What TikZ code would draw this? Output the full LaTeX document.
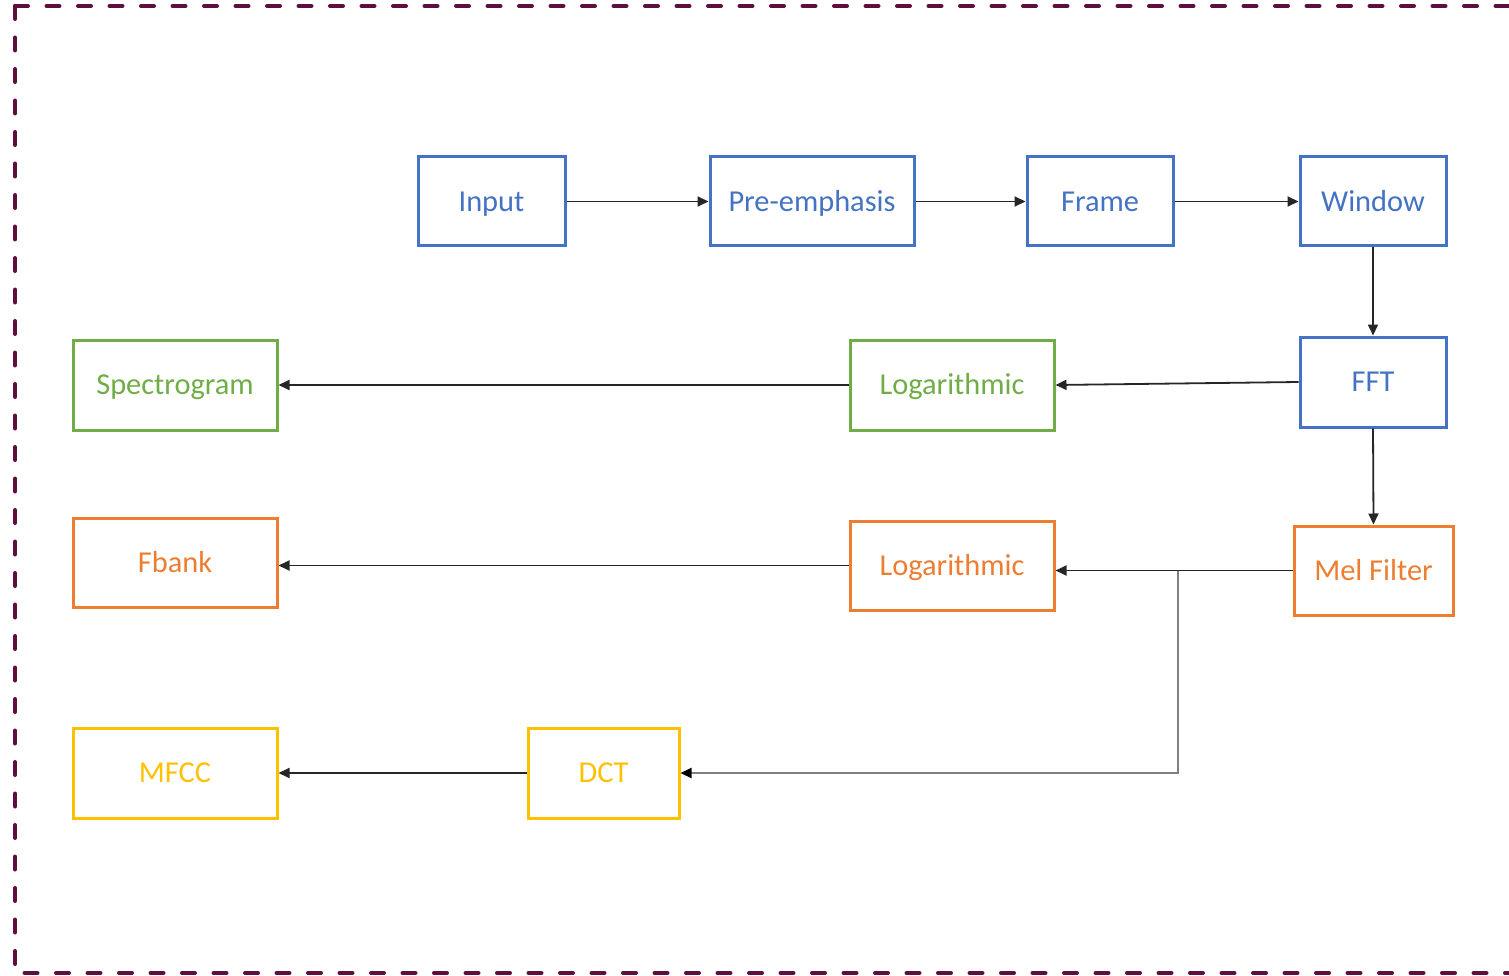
\documentclass[tikz,border=0pt]{standalone}
\usepackage{fontspec}
\setmainfont{Carlito}
\usetikzlibrary{arrows.meta}
\definecolor{cblue}{HTML}{4472C4}
\definecolor{cgreen}{HTML}{70AD47}
\definecolor{corange}{HTML}{ED7D31}
\definecolor{cyellow}{HTML}{FFC000}
\definecolor{cborder}{HTML}{5E0F3E}
\definecolor{cgray}{HTML}{7F7F7F}
\tikzset{
  box/.style={draw, line width=3pt, inner sep=0pt, minimum height=89pt,
    text height=19.5pt, text depth=0pt,
    font=\fontsize{30.4}{36}\selectfont},
  bluebox/.style={box, draw=cblue, text=cblue},
  greenbox/.style={box, draw=cgreen, text=cgreen},
  orangebox/.style={box, draw=corange, text=corange},
  yellowbox/.style={box, draw=cyellow, text=cyellow},
  conn/.style={line width=1.8pt, draw=black!85, -{Triangle[length=11pt,width=10pt]}},
  grayconn/.style={line width=2.2pt, draw=cgray, -{Triangle[length=11pt,width=10pt,color=black,fill=black]}},
}
\begin{document}
\begin{tikzpicture}[x=1pt,y=-1pt]
\useasboundingbox (0,0) rectangle (1509,976);
\draw[cborder, line width=4pt, line cap=round, dash pattern=on 13pt off 18.5pt]
  (15,6) -- (1530,6);
\draw[cborder, line width=4pt, line cap=round, dash pattern=on 13pt off 18.5pt]
  (15,6) -- (15,973) -- (1530,973);

\node[bluebox, minimum width=147pt] (input) at (491.5,201.5) {Input};
\node[bluebox, minimum width=204pt] (pre) at (812,201.5) {Pre-emphasis};
\node[bluebox, minimum width=146pt] (frame) at (1100,201.5) {Frame};
\node[bluebox, minimum width=146pt] (window) at (1373,201.5) {Window};
\node[bluebox, minimum width=146pt, minimum height=90pt] (fft) at (1373,382) {FFT};
\node[greenbox, minimum width=204pt, minimum height=90pt] (spec) at (175,385) {Spectrogram};
\node[greenbox, minimum width=204pt, minimum height=90pt] (logg) at (952,385) {Logarithmic};
\node[orangebox, minimum width=204pt] (fbank) at (175,562.5) {Fbank};
\node[orangebox, minimum width=204pt] (logo) at (952,565.5) {Logarithmic};
\node[orangebox, minimum width=159pt] (mel) at (1373.5,570.5) {Mel Filter};
\node[yellowbox, minimum width=204pt, minimum height=90pt] (mfcc) at (175,773) {MFCC};
\node[yellowbox, minimum width=151pt, minimum height=90pt] (dct) at (603.5,773) {DCT};

\draw[conn] (input.east) -- (pre.west);
\draw[conn] (pre.east) -- (frame.west);
\draw[conn] (frame.east) -- (window.west);
\draw[conn] (window.south) -- (fft.north);
\draw[conn] (fft.west) -- (logg.east);
\draw[conn] (logg.west) -- (spec.east);
\draw[conn] (fft.south) -- (mel.north);
\draw[conn] (mel.west) -- (logo.east |- mel.west);
\draw[conn] (logo.west) -- (fbank.east |- logo.west);
\coordinate (br) at (1178,570.5);
\draw[grayconn] (br) |- (dct.east);
\draw[conn] (dct.west) -- (mfcc.east);
\end{tikzpicture}
\end{document}
